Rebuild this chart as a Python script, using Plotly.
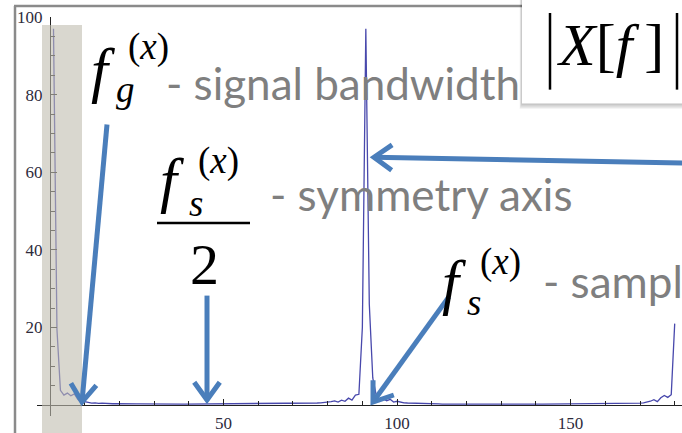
import math
import plotly.graph_objects as go

# |X[f]| magnitude spectrum, bins 1..180
bins = list(range(1, 181))
magnitude = [
    97.0, 19.5, 3.8, 2.6, 3.1, 2.4, 2.9, 1.5, 0.6, 0.9,
    0.7, 0.5, 0.6, 0.45, 0.5, 0.4, 0.45, 0.35, 0.4, 0.35,
    0.35, 0.3, 0.35, 0.3, 0.3, 0.32, 0.3, 0.28, 0.3, 0.3,
    0.28, 0.3, 0.27, 0.28, 0.3, 0.27, 0.28, 0.26, 0.27, 0.28,
    0.26, 0.27, 0.25, 0.26, 0.27, 0.25, 0.26, 0.25, 0.26, 0.25,
    0.26, 0.25, 0.26, 0.27, 0.26, 0.27, 0.28, 0.27, 0.28, 0.3,
    0.28, 0.3, 0.3, 0.32, 0.3, 0.33, 0.32, 0.35, 0.34, 0.36,
    0.38, 0.4, 0.4, 0.45, 0.45, 0.5, 0.55, 0.6, 0.65, 0.75,
    0.9, 1.1, 0.8, 1.3, 1.0, 1.8, 1.3, 2.6, 2.8, 20.0,
    97.0, 26.0, 7.0, 2.5, 1.0, 1.6, 1.1, 1.5, 0.8, 1.0,
    0.7, 0.6, 0.55, 0.5, 0.45, 0.42, 0.4, 0.36, 0.34, 0.32,
    0.3, 0.3, 0.28, 0.3, 0.28, 0.27, 0.28, 0.27, 0.26, 0.27,
    0.26, 0.25, 0.26, 0.25, 0.26, 0.25, 0.25, 0.26, 0.25, 0.25,
    0.25, 0.26, 0.25, 0.26, 0.25, 0.25, 0.26, 0.25, 0.26, 0.25,
    0.26, 0.25, 0.26, 0.25, 0.26, 0.27, 0.26, 0.27, 0.26, 0.28,
    0.27, 0.28, 0.28, 0.3, 0.28, 0.3, 0.3, 0.32, 0.3, 0.32,
    0.3, 0.3, 0.35, 0.35, 0.35, 0.4, 0.4, 0.45, 0.45, 0.5,
    0.6, 0.8, 1.0, 1.4, 0.9, 1.9, 2.5, 2.0, 2.7, 21.0,
]

x_ticks = [50, 100, 150]
y_ticks = [20, 40, 60, 80, 100]
x_range = [-3.75, 182.1]
y_range = [-2.8, 100.0]

# plot area geometry (pixels)
FIG_W, FIG_H = 682, 433
M_L, M_R, M_T, M_B = 37, 0, 17, 15
PW = FIG_W - M_L - M_R
PH = FIG_H - M_T - M_B


def px(x):
    return (x - M_L) / PW


def py(y):
    return (FIG_H - M_B - y) / PH


ARROW_BLUE = "#4a7ebb"
GRAY_TEXT = "#7f7f7f"
SERIF = "Liberation Serif"
SANS = "Lato"

shapes = []
annotations = []


def line(x0, y0, x1, y1, color, width):
    shapes.append(dict(type="line", xref="paper", yref="paper",
                       x0=px(x0), y0=py(y0), x1=px(x1), y1=py(y1),
                       line=dict(color=color, width=width), layer="above"))


def rect(x0, y0, x1, y1, fill, layer="above"):
    shapes.append(dict(type="rect", xref="paper", yref="paper",
                       x0=px(x0), y0=py(y0), x1=px(x1), y1=py(y1),
                       fillcolor=fill, line=dict(width=0), layer=layer))


def arrow(x0, y0, x1, y1, head=22, spread=0.62):
    ang = math.atan2(y0 - y1, x0 - x1)
    line(x0, y0, x1, y1, ARROW_BLUE, 5)
    ax = x1 + head * math.cos(ang + spread)
    ay = y1 + head * math.sin(ang + spread)
    bx = x1 + head * math.cos(ang - spread)
    by = y1 + head * math.sin(ang - spread)
    path = "M {:.5f},{:.5f} L {:.5f},{:.5f} L {:.5f},{:.5f}".format(
        px(ax), py(ay), px(x1), py(y1), px(bx), py(by))
    shapes.append(dict(type="path", xref="paper", yref="paper", path=path,
                       line=dict(color=ARROW_BLUE, width=5), layer="above"))


METRICS = {SERIF: (0.891, 0.216), SANS: (0.987, 0.213)}


def text(s, x, baseline, size, family, color="#000000", anchor="left"):
    asc, desc = METRICS[family]
    cy = baseline - (asc - desc) / 2.0 * size
    annotations.append(dict(text=s, x=px(x), y=py(cy), xref="paper", yref="paper",
                            xanchor=anchor, yanchor="middle", showarrow=False,
                            borderpad=0, borderwidth=0,
                            font=dict(family=family, size=size, color=color)))


# frame of the picture
line(15, 6, 15, 440, "#8a8a8a", 2.5)
line(14, 6, 524, 6, "#8a8a8a", 2.5)

# shaded band around the baseband
rect(42, 25, 82, 440, "rgba(192,188,175,0.6)")

# |X[f]| label box with shadow
for k in range(1, 7):
    rect(522 - 0.4 * k, -5, 700, 104 + 0.9 * k, "rgba(0,0,0,0.045)")
rect(522, -5, 700, 104, "#ffffff")
line(550, 13, 550, 90, "#000000", 2.5)
line(677, 13, 677, 90, "#000000", 2.5)
text("<i>X</i>[<i>f</i>\u2009]", 557, 65, 60, SERIF)

# arrows
arrow(107, 125, 82, 404)
arrow(207, 297, 207, 402)
arrow(690, 164, 374, 158)
arrow(449, 298, 373, 404)

# f_g^(x) - signal bandwidth
text("<i>f</i>", 91, 91, 61, SERIF)
text("(<i>x</i>)", 128, 60, 37, SERIF)
text("<i>g</i>", 116, 102, 37, SERIF)
text("- signal bandwidth", 166, 100, 44, SANS, GRAY_TEXT)

# f_s^(x) / 2 - symmetry axis
text("<i>f</i>", 160, 202, 61, SERIF)
text("(<i>x</i>)", 198, 174, 37, SERIF)
text("<i>s</i>", 189, 217, 37, SERIF)
line(157, 224, 250, 224, "#000000", 2.5)
text("2", 204, 285, 58, SERIF, anchor="center")
text("- symmetry axis", 270, 212, 44, SANS, GRAY_TEXT)

# f_s^(x) - sampling frequency
text("<i>f</i>", 442, 304, 61, SERIF)
text("(<i>x</i>)", 480, 276, 37, SERIF)
text("<i>s</i>", 467, 316, 37, SERIF)
text("- sampling frequency", 543, 299, 44, SANS, GRAY_TEXT)

fig = go.Figure()
fig.add_trace(go.Scatter(x=bins, y=magnitude, mode="lines",
                         line=dict(color="rgb(72,72,172)", width=1.3),
                         hoverinfo="skip", showlegend=False))

tick_font = dict(family=SERIF, size=17, color="#2e2b3c")
x0_frac = (0 - x_range[0]) / (x_range[1] - x_range[0])
y0_frac = (0 - y_range[0]) / (y_range[1] - y_range[0])

fig.update_layout(
    width=FIG_W, height=FIG_H,
    margin=dict(l=M_L, r=M_R, t=M_T, b=M_B, pad=0),
    paper_bgcolor="#ffffff", plot_bgcolor="#ffffff",
    showlegend=False,
    xaxis=dict(range=x_range, anchor="free", position=y0_frac,
               showgrid=False, zeroline=False, showline=True,
               linecolor="#222222", linewidth=1.2,
               ticks="inside", ticklen=6, tickwidth=1.2, tickcolor="#222222",
               tickmode="array", tickvals=x_ticks,
               ticktext=[str(v) for v in x_ticks], tickfont=tick_font,
               ticklabelstandoff=2,
               minor=dict(ticks="inside", ticklen=4, tickwidth=1.2,
                          tickcolor="#222222", dtick=10, tick0=0)),
    yaxis=dict(range=y_range, anchor="free", position=x0_frac,
               showgrid=False, zeroline=False, showline=True,
               linecolor="#222222", linewidth=1.2,
               ticks="inside", ticklen=6, tickwidth=1.2, tickcolor="#222222",
               tickmode="array", tickvals=y_ticks,
               ticktext=[str(v) for v in y_ticks], tickfont=tick_font,
               ticklabelstandoff=4,
               minor=dict(ticks="inside", ticklen=3.5, tickwidth=1.2,
                          tickcolor="#222222", dtick=5, tick0=0)),
    shapes=shapes,
    annotations=annotations,
)

fig.write_html("out.html")
